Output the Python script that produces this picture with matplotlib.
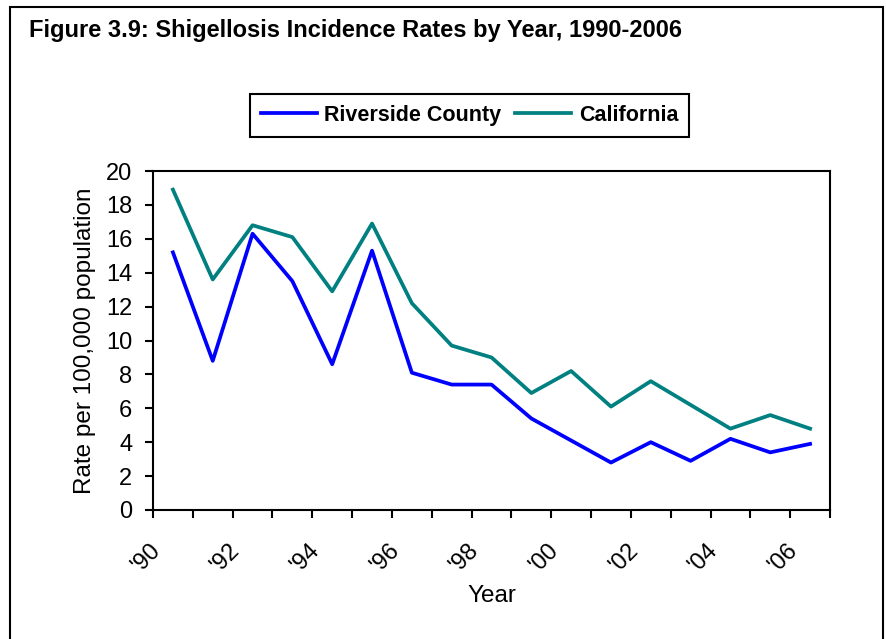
import numpy as np
import matplotlib.pyplot as plt
from matplotlib.patches import Rectangle
from matplotlib.transforms import ScaledTranslation

plt.rcParams['font.family'] = ['Liberation Sans', 'DejaVu Sans']

years = list(range(1990, 2007))
tick_labels = ["'90", "'92", "'94", "'96", "'98", "'00", "'02", "'04", "'06"]
riverside = [15.2, 8.8, 16.3, 13.5, 8.6, 15.3, 8.1, 7.4, 7.4, 5.4, 4.1, 2.8, 4.0, 2.9, 4.2, 3.4, 3.9]
california = [18.9, 13.6, 16.8, 16.1, 12.9, 16.9, 12.2, 9.7, 9.0, 6.9, 8.2, 6.1, 7.6, 6.2, 4.8, 5.6, 4.8]

fig = plt.figure(figsize=(8.87, 6.39), dpi=100)
# outer frame (runs off the bottom of the picture)
fig.patches.append(Rectangle((10/887, -0.05), 873/887, 1 - 7/639 + 0.05,
                             transform=fig.transFigure, fill=False, ec='black', lw=1.5))

ax = fig.add_axes([153/887, 129/639, 677/887, 339/639])
x = np.arange(len(years)) + 0.5
l1, = ax.plot(x, riverside, color='#0000FF', lw=2.7, label='Riverside County')
l2, = ax.plot(x, california, color='#008080', lw=2.7, label='California')

ax.set_xlim(0, len(years))
ax.set_ylim(0, 20)
ax.set_yticks(range(0, 21, 2))
ax.set_xticks(range(len(years) + 1))
ax.set_xticklabels([])
ax.set_xticks(x[::2], minor=True)
ax.set_xticklabels(tick_labels, minor=True, rotation=45, ha='right', va='center',
                   rotation_mode='anchor', fontsize=17)
ax.tick_params(axis='x', which='minor', length=0, pad=26.5)
ax.tick_params(axis='both', which='major', direction='out', length=6, width=1.5, labelsize=17)
ax.tick_params(axis='y', pad=9)
shift = ScaledTranslation(-0.16, 0, fig.dpi_scale_trans)
for lab in ax.get_xticklabels(minor=True):
    lab.set_transform(lab.get_transform() + shift)
for s in ax.spines.values():
    s.set_linewidth(1.5)

ax.set_ylabel('Rate per 100,000 population', fontsize=17.5, labelpad=7)
ax.set_xlabel('Year', fontsize=17.5, labelpad=6)

fig.text(29/887, 1 - 31/639, 'Figure 3.9: Shigellosis Incidence Rates by Year, 1990-2006',
         fontsize=17, fontweight='bold', va='center', ha='left')

leg = fig.legend(handles=[l1, l2], loc='center', bbox_to_anchor=(469.5/887, 1 - 115.5/639),
                 ncol=2, prop={'weight': 'bold', 'size': 15.5}, fancybox=False,
                 edgecolor='black', framealpha=1, handlelength=2.6, columnspacing=0.65,
                 handletextpad=0.35, borderpad=0.5)
leg.get_frame().set_linewidth(1.5)

fig.savefig('out.png', dpi=100)
